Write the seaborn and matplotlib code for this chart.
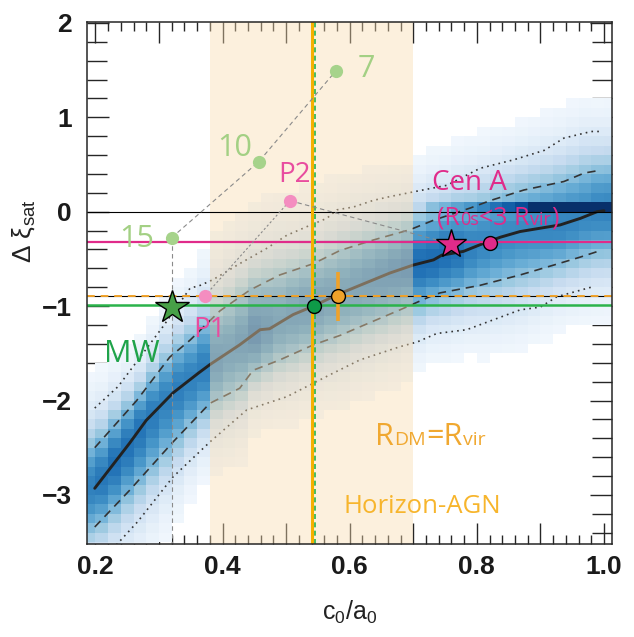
import numpy as np
import pandas as pd
import matplotlib
matplotlib.use("Agg")
import matplotlib.pyplot as plt
import matplotlib.transforms as mtransforms
from matplotlib.ticker import MultipleLocator, FuncFormatter
import seaborn as sns

# ---------------- percentile curves of the simulated haloes ----------------
med_x = [0.199, 0.254, 0.280, 0.322, 0.362, 0.380, 0.427, 0.459, 0.474, 0.511, 0.543,
         0.580, 0.616, 0.663, 0.700, 0.732, 0.745, 0.779, 0.805, 0.837, 0.868, 0.931,
         0.963, 0.989, 1.000]
med_y = [-2.93, -2.45, -2.21, -1.92, -1.71, -1.62, -1.41, -1.25, -1.24, -1.09, -1.00,
         -0.88, -0.78, -0.65, -0.565, -0.51, -0.46, -0.42, -0.35, -0.27, -0.21, -0.14,
         -0.07, 0.00, 0.01]

hi1_x = [0.199, 0.265, 0.317, 0.349, 0.396, 0.443, 0.490, 0.543, 0.585, 0.637, 0.695,
         0.732, 0.790, 0.822, 0.874, 0.937, 0.969, 0.995]
hi1_y = [-2.50, -2.00, -1.54, -1.36, -1.05, -0.83, -0.67, -0.55, -0.41, -0.30, -0.19,
         -0.09, 0.04, 0.12, 0.23, 0.32, 0.41, 0.44]

lo1_x = [0.199, 0.254, 0.322, 0.380, 0.427, 0.448, 0.490, 0.543, 0.585, 0.616, 0.679,
         0.726, 0.742, 0.805, 0.868, 0.921, 0.963, 0.995]
lo1_y = [-3.34, -2.95, -2.44, -2.03, -1.87, -1.68, -1.57, -1.41, -1.31, -1.22, -1.04,
         -0.90, -0.86, -0.78, -0.67, -0.565, -0.48, -0.41]

hi2_x = [0.199, 0.236, 0.306, 0.349, 0.365, 0.385, 0.427, 0.469, 0.501, 0.532, 0.564,
         0.580, 0.606, 0.637, 0.663, 0.700, 0.753, 0.805, 0.858, 0.906, 0.937, 0.980, 0.995]
hi2_y = [-2.08, -1.85, -1.22, -0.81, -0.78, -0.72, -0.55, -0.39, -0.25, -0.16, -0.07,
         0.02, 0.05, 0.12, 0.16, 0.21, 0.28, 0.46, 0.55, 0.65, 0.78, 0.85, 0.85]

lo2_x = [0.233, 0.267, 0.322, 0.380, 0.438, 0.501, 0.574, 0.616, 0.679, 0.706, 0.737,
         0.784, 0.816, 0.868, 0.900, 0.926, 0.953, 0.985]
lo2_y = [-3.53, -3.28, -2.81, -2.44, -2.10, -1.96, -1.71, -1.57, -1.43, -1.38, -1.29,
         -1.25, -1.17, -1.04, -1.01, -0.90, -0.85, -0.79]

# relative population of each 0.02-wide column, from c0/a0 = 0.18 to 1.02
col_weight = [0.95, 1.00, 1.05, 1.05, 1.05, 1.05, 1.05, 1.05, 1.00, 1.00,
              1.05, 1.05, 1.10, 1.10, 1.05, 1.00, 1.00, 1.00, 1.00, 1.00,
              1.00, 1.00, 1.00, 1.00, 1.00, 1.00, 1.00, 1.00, 1.00, 1.00,
              0.95, 0.95, 0.95, 0.95, 0.95, 0.95, 0.95, 0.95, 0.95, 0.95,
              0.95, 0.95]
# haloes piling up in the 0 <= d_xi < 0.1 row
zero_row_x = [0.73, 0.75, 0.77, 0.79, 0.81, 0.83, 0.85, 0.87, 0.89, 0.91, 0.93, 0.95,
              0.97, 0.99, 1.01]
zero_row_w = [0.010, 0.012, 0.015, 0.020, 0.025, 0.030, 0.035, 0.040, 0.050, 0.060,
              0.070, 0.080, 0.090, 0.095, 0.095]

# ---------------- observed systems and model points ----------------
mw_x, mw_y = 0.320, -1.006
cena_star_x, cena_star_y = 0.760, -0.340
cena_dot_x, cena_dot_y = 0.821, -0.330
agn_x, agn_y, agn_err_lo, agn_err_hi = 0.581, -0.893, 0.262, 0.258
rvir_x, rvir_y = 0.544, -0.996
p_names = ["P1", "P2"]
p_x = [0.372, 0.506]
p_y = [-0.893, 0.117]
n_names = ["15", "10", "7"]
n_x = [0.320, 0.457, 0.578]
n_y = [-0.275, 0.530, 1.490]

band_lo, band_hi = 0.38, 0.70
agn_vline = 0.540
rvir_vline = 0.545
cena_hline = -0.318
agn_hline = -0.893
mw_hline = -0.988

# ---------------- style ----------------
sns.set_style("ticks")
plt.rcParams.update({
    "font.family": ["Liberation Sans", "DejaVu Sans"],
    "mathtext.fontset": "custom",
    "mathtext.rm": "Liberation Sans",
    "mathtext.it": "Liberation Sans:italic",
    "mathtext.bf": "Liberation Sans:bold",
    "axes.linewidth": 1.1,
    "xtick.direction": "in",
    "ytick.direction": "in",
    "xtick.top": True,
    "ytick.right": True,
})

fig = plt.figure(figsize=(6.34, 6.37), dpi=100)
ax = fig.add_axes([0.1372, 0.1460, 0.8281, 0.8195])

# ---------------- 2D histogram of the population ----------------
xe = np.round(np.arange(0.18, 1.0201, 0.02), 3)
ye = np.round(np.arange(-3.6, 2.0001, 0.1), 2)
xc = 0.5 * (xe[:-1] + xe[1:])
yc = 0.5 * (ye[:-1] + ye[1:])


def split_normal(y, m, s_lo, s_hi):
    s = np.where(y >= m, s_hi, s_lo)
    return 2.0 / (np.sqrt(2 * np.pi) * (s_hi + s_lo)) * np.exp(-0.5 * ((y - m) / s) ** 2)


rows = []
for i, x0 in enumerate(xc):
    m = np.interp(x0, med_x, med_y)
    s_hi = max(np.interp(x0, hi1_x, hi1_y) - m, 0.15)
    s_lo = max(m - np.interp(x0, lo1_x, lo1_y), 0.15)
    dens = 0.82 * split_normal(yc, m, s_lo, s_hi) + \
        0.18 * split_normal(yc, m, 1.8 * s_lo, 1.8 * s_hi)
    w = dens * 0.1 * col_weight[i]
    if x0 > 0.72:
        j = np.argmin(np.abs(yc - 0.05))
        w[j] += np.interp(x0, zero_row_x, zero_row_w)
    for j in range(len(yc)):
        rows.append((x0, yc[j], w[j]))
grid = pd.DataFrame(rows, columns=["c_a", "dxi", "w"])

sns.histplot(data=grid, x="c_a", y="dxi", weights="w", bins=[xe, ye],
             cmap="Blues", vmin=0, vmax=0.12, thresh=0.004, ax=ax, zorder=1)

# ---------------- percentile curves ----------------
ax.plot(med_x, med_y, color="#222222", lw=2.1, zorder=2)
for cx, cy in [(hi1_x, hi1_y), (lo1_x, lo1_y)]:
    ax.plot(cx, cy, color="#333333", lw=1.2, ls=(0, (5, 3.5)), zorder=2)
for cx, cy in [(hi2_x, hi2_y), (lo2_x, lo2_y)]:
    ax.plot(cx, cy, color="#333333", lw=1.2, ls=(0, (1, 2.5)), zorder=2)

# Horizon-AGN range of c0/a0
ax.axvspan(band_lo, band_hi, color=(250 / 255, 220 / 255, 175 / 255), alpha=0.42,
           lw=0, zorder=3)

# ---------------- reference lines ----------------
ax.axhline(0, color="black", lw=0.8, zorder=4)
ax.axhline(cena_hline, color="#E02B8A", lw=1.6, zorder=4)
ax.axhline(agn_hline, color="black", lw=0.8, zorder=4)
ax.axhline(agn_hline, color="#F0A22A", lw=1.4, ls=(0, (4, 3)), zorder=4)
ax.axhline(mw_hline, color="#2BB34B", lw=1.8, zorder=4)
ax.axvline(agn_vline, color="#F5B000", lw=2.2, zorder=4)
ax.axvline(rvir_vline, color="#2BB34B", lw=1.2, ls=(0, (3, 2)), zorder=4)

# connectors between model points
grey = "#8a8a8a"
ax.plot(n_x, n_y, color=grey, lw=0.8, ls=(0, (4, 3)), zorder=4)
ax.plot([n_x[0], n_x[0]], [n_y[0], -3.6], color=grey, lw=0.8, ls=(0, (4, 3)), zorder=4)
ax.plot([p_x[0], p_x[1]], [p_y[0], p_y[1]], color=grey, lw=0.8, ls=(0, (2, 2)), zorder=4)
ax.plot([p_x[1], cena_star_x], [p_y[1], cena_star_y], color=grey, lw=0.8,
        ls=(0, (4, 3)), zorder=4)

# ---------------- markers ----------------
ax.plot(n_x, n_y, "o", ms=9.5, color="#A6D38B", mec="none", zorder=5)
ax.plot(p_x, p_y, "o", ms=9.5, color="#F48DC0", mec="none", zorder=5)
ax.plot(mw_x, mw_y, "*", ms=25, color="#47A047", mec="black", mew=1.0, zorder=6)
ax.plot(rvir_x, rvir_y, "o", ms=10, color="#0E9A48", mec="black", mew=1.0, zorder=6)
ax.errorbar(agn_x, agn_y, yerr=[[agn_err_lo], [agn_err_hi]], fmt="o", ms=10,
            color="#F0A22A", mec="black", mew=1.0, elinewidth=2.6, capsize=0, zorder=6)
ax.plot(cena_dot_x, cena_dot_y, "o", ms=10, color="#E02B8A", mec="black", mew=1.0, zorder=6)
ax.plot(cena_star_x, cena_star_y, "*", ms=22, color="#E02B8A", mec="black", mew=1.0,
        zorder=6)

# ---------------- annotations ----------------
lab = dict(family=["Open Sans", "DejaVu Sans"], ha="left", va="baseline", zorder=7)
ax.text(0.238, -0.37, "15", fontsize=22, color="#A3D084", **lab)
ax.text(0.391, 0.59, "10", fontsize=22, color="#A3D084", **lab)
ax.text(0.612, 1.43, "7", fontsize=22, color="#A3D084", **lab)
ax.text(0.488, 0.318, "P2", fontsize=20, color="#E84C9F", **lab)
ax.text(0.354, -1.33, "P1", fontsize=20, color="#E84C9F", **lab)
ax.text(0.213, -1.59, "MW", fontsize=22, color="#1FA34A", **lab)
ax.text(0.729, 0.23, "Cen A", fontsize=20, color="#E02B8A", **lab)
ax.text(0.590, -3.195, "Horizon-AGN", fontsize=18.5, color="#F7B52C", **lab)

renderer = fig.canvas.get_renderer()


def text_runs(x, y, runs, color):
    """Write pieces of different sizes one after another on a shared baseline."""
    offset = 0.0
    for s, size in runs:
        tr = mtransforms.offset_copy(ax.transData, fig=fig, x=offset, y=0, units="dots")
        t = ax.text(x, y, s, fontsize=size, color=color, transform=tr,
                    family=["Open Sans", "DejaVu Sans"], ha="left", va="baseline",
                    zorder=7)
        offset += t.get_window_extent(renderer).width + 0.5


text_runs(0.737, -0.14, [("(R", 18), ("0s", 13), ("<3 R", 18), ("vir", 13), (")", 18)],
          "#E02B8A")
text_runs(0.640, -2.47, [("R", 22), ("DM", 14), ("=R", 22), ("vir", 14)], "#F0A830")

# ---------------- axes ----------------
ax.set_xlim(0.1868, 1.0126)
ax.set_ylim(-3.52, 2.01)
ax.xaxis.set_major_locator(MultipleLocator(0.1))
ax.xaxis.set_minor_locator(MultipleLocator(0.02))
ax.yaxis.set_major_locator(MultipleLocator(1))
ax.yaxis.set_minor_locator(MultipleLocator(0.2))
ax.xaxis.set_major_formatter(FuncFormatter(
    lambda v, p: f"{v:.1f}" if int(round(v * 10)) % 2 == 0 else ""))
ax.yaxis.set_major_formatter(FuncFormatter(
    lambda v, p: f"{int(round(v))}".replace("-", "\u2212")))
ax.tick_params(axis="x", which="major", length=15, width=1.0, pad=8)
ax.tick_params(axis="x", which="minor", length=6.7, width=1.0)
ax.tick_params(axis="y", which="major", length=16, width=1.0, pad=11)
ax.tick_params(axis="y", which="minor", length=14.4, width=1.0)
for t in ax.get_xticklabels() + ax.get_yticklabels():
    t.set_fontweight("bold")
    t.set_fontsize(19)
    t.set_color("#1a1a1a")

ax.set_xlabel("c$_{\\rm 0}$/a$_{\\rm 0}$", fontsize=18, color="#222222")
ax.set_ylabel("\u0394 \u03be$_{\\rm sat}$", fontsize=19, color="#222222")
ax.xaxis.set_label_coords(0.5, -0.105)
ax.yaxis.set_label_coords(-0.095, 0.60)
for sp in ax.spines.values():
    sp.set_zorder(8)

fig.savefig("out.png", dpi=100)
